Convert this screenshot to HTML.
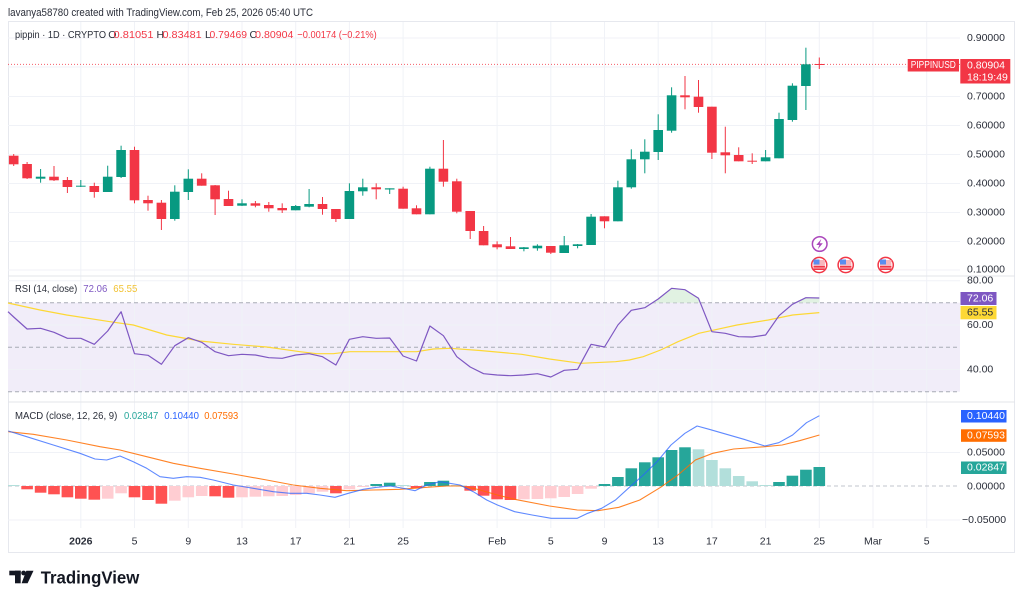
<!DOCTYPE html>
<html><head><meta charset="utf-8">
<style>
html,body{margin:0;padding:0;background:#fff;}
svg{display:block;}
text{font-family:"Liberation Sans",sans-serif;}
</style></head>
<body>
<svg width="1024" height="602" viewBox="0 0 1024 602" xmlns="http://www.w3.org/2000/svg">
<rect width="1024" height="602" fill="#fff"/>

<!-- header -->
<text x="8" y="13" font-size="11" fill="#2a2e39" dominant-baseline="central" textLength="305" lengthAdjust="spacingAndGlyphs">lavanya58780 created with TradingView.com, Feb 25, 2026 05:40 UTC</text>

<!-- frame -->
<rect x="8.5" y="21.5" width="1006" height="531" fill="none" stroke="#e6e8ee" stroke-width="1"/>

<!-- RSI band -->
<rect x="8" y="302.75" width="952" height="89" fill="#f1edf9"/>

<!-- vertical grid -->
<g stroke="#f0f2f7" stroke-width="1">
<line x1="80.8" y1="22" x2="80.8" y2="528"/>
<line x1="134.5" y1="22" x2="134.5" y2="528"/>
<line x1="188.3" y1="22" x2="188.3" y2="528"/>
<line x1="242" y1="22" x2="242" y2="528"/>
<line x1="295.7" y1="22" x2="295.7" y2="528"/>
<line x1="349.4" y1="22" x2="349.4" y2="528"/>
<line x1="403.1" y1="22" x2="403.1" y2="528"/>
<line x1="497.1" y1="22" x2="497.1" y2="528"/>
<line x1="550.8" y1="22" x2="550.8" y2="528"/>
<line x1="604.5" y1="22" x2="604.5" y2="528"/>
<line x1="658.2" y1="22" x2="658.2" y2="528"/>
<line x1="711.9" y1="22" x2="711.9" y2="528"/>
<line x1="765.6" y1="22" x2="765.6" y2="528"/>
<line x1="819.3" y1="22" x2="819.3" y2="528"/>
<line x1="873" y1="22" x2="873" y2="528"/>
<line x1="926.7" y1="22" x2="926.7" y2="528"/>
</g>
<!-- horizontal grid -->
<g stroke="#f0f2f7" stroke-width="1">
<line x1="8" y1="38" x2="960" y2="38"/>
<line x1="8" y1="67" x2="960" y2="67"/>
<line x1="8" y1="96.5" x2="960" y2="96.5"/>
<line x1="8" y1="125.5" x2="960" y2="125.5"/>
<line x1="8" y1="154.5" x2="960" y2="154.5"/>
<line x1="8" y1="183.5" x2="960" y2="183.5"/>
<line x1="8" y1="212.5" x2="960" y2="212.5"/>
<line x1="8" y1="241.5" x2="960" y2="241.5"/>
<line x1="8" y1="270" x2="960" y2="270"/>
<line x1="8" y1="280.7" x2="960" y2="280.7"/>
<line x1="8" y1="325" x2="960" y2="325"/>
<line x1="8" y1="369.5" x2="960" y2="369.5"/>
<line x1="8" y1="452.5" x2="960" y2="452.5"/>
<line x1="8" y1="520" x2="960" y2="520"/>
</g>

<!-- pane separators -->
<line x1="8" y1="276" x2="1015" y2="276" stroke="#e3e5ea" stroke-width="1"/>
<line x1="8" y1="402" x2="1015" y2="402" stroke="#e3e5ea" stroke-width="1"/>

<!-- RSI dashed levels -->
<g stroke="#a8abb5" stroke-width="1" stroke-dasharray="4,3">
<line x1="8" y1="302.75" x2="960" y2="302.75"/>
<line x1="8" y1="347.25" x2="960" y2="347.25"/>
<line x1="8" y1="391.75" x2="960" y2="391.75"/>
</g>

<!-- MACD zero dashed -->
<line x1="8" y1="486" x2="960" y2="486" stroke="#c2c4cc" stroke-width="1" stroke-dasharray="4,3"/>

<!-- price line -->
<line x1="8" y1="64.4" x2="960" y2="64.4" stroke="#F23645" stroke-width="1" stroke-dasharray="1,2" opacity="0.8"/>

<!-- candles green -->
<g fill="#089981">
<rect x="40.1" y="169" width="1" height="13.7"/><rect x="35.8" y="176.7" width="9.6" height="2"/>
<rect x="80.3" y="180" width="1" height="7"/><rect x="76" y="185.7" width="9.6" height="1"/>
<rect x="107.2" y="165.7" width="1" height="26.3"/><rect x="102.9" y="176.7" width="9.6" height="15.3"/>
<rect x="120.6" y="145.7" width="1" height="32.3"/><rect x="116.3" y="150" width="9.6" height="27"/>
<rect x="174.3" y="185.3" width="1" height="35.4"/><rect x="170" y="191.7" width="9.6" height="27.3"/>
<rect x="187.8" y="169.3" width="1" height="30.7"/><rect x="183.5" y="178.7" width="9.6" height="13.3"/>
<rect x="241.5" y="199.3" width="1" height="6.7"/><rect x="237.2" y="203.3" width="9.6" height="2.4"/>
<rect x="295.2" y="205" width="1" height="5.3"/><rect x="290.9" y="206" width="9.6" height="4.3"/>
<rect x="308.6" y="189" width="1" height="18.3"/><rect x="304.3" y="204" width="9.6" height="2.7"/>
<rect x="348.9" y="183.3" width="1" height="35.7"/><rect x="344.6" y="191" width="9.6" height="28"/>
<rect x="362.3" y="178.7" width="1" height="17"/><rect x="358" y="187.3" width="9.6" height="4"/>
<rect x="389.2" y="188.3" width="1" height="5.7"/><rect x="384.9" y="188.3" width="9.6" height="1.2"/>
<rect x="429.4" y="166.7" width="1" height="47.6"/><rect x="425.1" y="168.7" width="9.6" height="45.6"/>
<rect x="523.4" y="247" width="1" height="4.3"/><rect x="519.1" y="247.3" width="9.6" height="1.7"/>
<rect x="536.9" y="244.3" width="1" height="6.4"/><rect x="532.6" y="245.7" width="9.6" height="2.6"/>
<rect x="563.7" y="236" width="1" height="17"/><rect x="559.4" y="245.3" width="9.6" height="7.7"/>
<rect x="577.1" y="244" width="1" height="4.3"/><rect x="572.8" y="244.3" width="9.6" height="1.7"/>
<rect x="590.6" y="214" width="1" height="31"/><rect x="586.3" y="216.7" width="9.6" height="28.3"/>
<rect x="617.4" y="180.7" width="1" height="40.6"/><rect x="613.1" y="187.3" width="9.6" height="34"/>
<rect x="630.8" y="149.3" width="1" height="39.4"/><rect x="626.5" y="159.3" width="9.6" height="28"/>
<rect x="644.3" y="139.3" width="1" height="34"/><rect x="640" y="151.7" width="9.6" height="7.6"/>
<rect x="657.7" y="114.3" width="1" height="45.7"/><rect x="653.4" y="130" width="9.6" height="22"/>
<rect x="671.1" y="87.3" width="1" height="45.4"/><rect x="666.8" y="95.3" width="9.6" height="35.4"/>
<rect x="765.1" y="150" width="1" height="11.3"/><rect x="760.8" y="157.3" width="9.6" height="4"/>
<rect x="778.5" y="112.7" width="1" height="45.6"/><rect x="774.2" y="119" width="9.6" height="39.3"/>
<rect x="791.9" y="83.3" width="1" height="38.4"/><rect x="787.6" y="85.7" width="9.6" height="34.3"/>
<rect x="805.4" y="47.7" width="1" height="62.3"/><rect x="801.1" y="64.3" width="9.6" height="21.7"/>
</g>
<!-- candles red -->
<g fill="#F23645">
<rect x="13.2" y="154" width="1" height="12"/><rect x="8.9" y="155.7" width="9.6" height="8.6"/>
<rect x="26.6" y="162" width="1" height="17"/><rect x="22.3" y="164" width="9.6" height="14.3"/>
<rect x="53.5" y="166" width="1" height="15"/><rect x="49.2" y="176.7" width="9.6" height="3.6"/>
<rect x="66.9" y="177" width="1" height="16"/><rect x="62.6" y="180" width="9.6" height="7"/>
<rect x="93.8" y="182.7" width="1" height="15"/><rect x="89.5" y="186" width="9.6" height="6"/>
<rect x="134" y="146.7" width="1" height="56.6"/><rect x="129.7" y="150" width="9.6" height="50.3"/>
<rect x="147.5" y="195.7" width="1" height="15"/><rect x="143.2" y="200" width="9.6" height="3.3"/>
<rect x="160.9" y="200" width="1" height="30"/><rect x="156.6" y="202.7" width="9.6" height="16.3"/>
<rect x="201.2" y="173.3" width="1" height="12.4"/><rect x="196.9" y="178.7" width="9.6" height="7"/>
<rect x="214.6" y="185" width="1" height="30"/><rect x="210.3" y="185.3" width="9.6" height="14"/>
<rect x="228" y="190.7" width="1" height="15.3"/><rect x="223.7" y="199" width="9.6" height="7"/>
<rect x="254.9" y="201" width="1" height="6.3"/><rect x="250.6" y="203.3" width="9.6" height="2.4"/>
<rect x="268.3" y="202" width="1" height="9.7"/><rect x="264" y="205" width="9.6" height="3.3"/>
<rect x="281.7" y="203.3" width="1" height="9.7"/><rect x="277.4" y="208" width="9.6" height="2.3"/>
<rect x="322" y="197" width="1" height="17.7"/><rect x="317.7" y="204" width="9.6" height="5"/>
<rect x="335.4" y="209" width="1" height="13"/><rect x="331.1" y="209" width="9.6" height="10"/>
<rect x="375.7" y="183.3" width="1" height="16"/><rect x="371.4" y="187.3" width="9.6" height="2"/>
<rect x="402.6" y="186.7" width="1" height="22"/><rect x="398.3" y="188.7" width="9.6" height="20"/>
<rect x="416" y="205.3" width="1" height="9"/><rect x="411.7" y="208.3" width="9.6" height="6"/>
<rect x="442.9" y="140" width="1" height="46.7"/><rect x="438.6" y="168.7" width="9.6" height="13"/>
<rect x="456.3" y="178.7" width="1" height="34.6"/><rect x="452" y="181.3" width="9.6" height="30.4"/>
<rect x="469.7" y="211" width="1" height="28"/><rect x="465.4" y="211" width="9.6" height="20"/>
<rect x="483.1" y="226" width="1" height="19.3"/><rect x="478.8" y="231" width="9.6" height="14.3"/>
<rect x="496.6" y="241.3" width="1" height="8"/><rect x="492.3" y="244.3" width="9.6" height="3"/>
<rect x="510" y="237" width="1" height="12"/><rect x="505.7" y="246.3" width="9.6" height="2.7"/>
<rect x="550.3" y="246" width="1" height="8"/><rect x="546" y="246" width="9.6" height="6.7"/>
<rect x="604" y="216.3" width="1" height="12"/><rect x="599.7" y="216.3" width="9.6" height="5"/>
<rect x="684.5" y="76" width="1" height="33.3"/><rect x="680.2" y="95.3" width="9.6" height="2"/>
<rect x="698" y="80" width="1" height="32.7"/><rect x="693.7" y="96.7" width="9.6" height="10.3"/>
<rect x="711.4" y="106.7" width="1" height="52.3"/><rect x="707.1" y="106.7" width="9.6" height="46"/>
<rect x="724.8" y="126.7" width="1" height="46.6"/><rect x="720.5" y="152.3" width="9.6" height="3"/>
<rect x="738.2" y="147.3" width="1" height="14"/><rect x="733.9" y="155" width="9.6" height="6.3"/>
<rect x="751.7" y="153.3" width="1" height="10.7"/><rect x="747.4" y="160.7" width="9.6" height="1"/>
<rect x="818.8" y="57.5" width="1" height="11.5"/><rect x="814.5" y="64" width="9.6" height="1"/>
</g>

<!-- event icons -->
<circle cx="819.7" cy="244" r="7.3" fill="#fff" stroke="#AB47BC" stroke-width="1.5"/>
<path d="M821.3,239 L816.3,245 L819.3,245 L817.8,249.3 L822.8,243.2 L819.8,243.2 Z" fill="#AB47BC"/>
<g>
<circle cx="819.2" cy="265" r="7.6" fill="#fff" stroke="#F23645" stroke-width="1.5"/>
<rect x="813.5" y="260" width="11.4" height="10" fill="#f7b6bc"/>
<rect x="813.5" y="266" width="11.4" height="1.5" fill="#F23645"/>
<rect x="813.5" y="268.5" width="11.4" height="1.5" fill="#F23645"/>
<rect x="813.5" y="259.5" width="6" height="5" fill="#5b8def"/>
</g>
<g>
<circle cx="845.7" cy="265" r="7.6" fill="#fff" stroke="#F23645" stroke-width="1.5"/>
<rect x="840" y="260" width="11.4" height="10" fill="#f7b6bc"/>
<rect x="840" y="266" width="11.4" height="1.5" fill="#F23645"/>
<rect x="840" y="268.5" width="11.4" height="1.5" fill="#F23645"/>
<rect x="840" y="259.5" width="6" height="5" fill="#5b8def"/>
</g>
<g>
<circle cx="885.7" cy="265" r="7.6" fill="#fff" stroke="#F23645" stroke-width="1.5"/>
<rect x="880" y="260" width="11.4" height="10" fill="#f7b6bc"/>
<rect x="880" y="266" width="11.4" height="1.5" fill="#F23645"/>
<rect x="880" y="268.5" width="11.4" height="1.5" fill="#F23645"/>
<rect x="880" y="259.5" width="6" height="5" fill="#5b8def"/>
</g>

<!-- RSI overbought fill -->
<polygon points="652.4,302.75 658.2,299 671.6,288.3 685,289.7 698.5,298.3 700.3,302.75" fill="#d9efdb" opacity="0.8"/>
<polygon points="795.5,302.75 805.9,297.7 819.3,298 819.3,302.75" fill="#d9efdb" opacity="0.8"/>

<!-- RSI MA -->
<polyline fill="none" stroke="#FDD835" stroke-width="1.2" points="8,303 40,310 66.7,315 110,321.7 133.3,325 166.7,335 200,341 233.3,344.3 266.7,347 300,351.7 316.7,353.7 333.3,353.7 350,351.7 416.7,351.7 433.3,349 450,348.3 480,350.5 521.7,354.3 549.5,359 580.7,363.3 615.5,361.7 629.4,360 643.2,356.7 660.6,350 678,341.7 698.8,333.3 712.7,330.3 737,325 768.3,320 792.6,315 819.3,312.6"/>
<!-- RSI -->
<polyline fill="none" stroke="#7E57C2" stroke-width="1.2" stroke-linejoin="round" points="8,311.7 13.7,317 27.1,329 40.6,328.3 54,332.3 67.4,338.3 80.8,338.3 94.3,344.3 107.7,331 121.1,311.7 134.5,353.7 148,355.3 161.4,364.3 174.8,345.7 188.3,337.7 201.7,342.3 215.1,351.7 228.5,355.7 242,354.3 255.4,355 268.8,357.7 282.2,358.3 295.7,355 309.1,353.7 322.5,356.7 335.9,365 349.4,339.3 362.8,336.7 376.2,338.3 389.7,338 403.1,356 416.5,361 429.9,326 443.4,335.7 456.8,356.7 470.2,367 483.6,373.7 497.1,375 510.5,375.7 523.9,375 537.4,373.7 550.8,377 564.2,370.3 577.6,369.3 591.1,344.3 604.5,347 617.9,325 631.3,310.3 644.8,307.7 658.2,299 671.6,288.3 685,289.7 698.5,298.3 711.9,331.7 725.3,333.3 738.7,336.7 752.2,337 765.6,335 779,315.7 792.4,304.3 805.9,297.7 819.3,298"/>

<!-- MACD histogram -->
<g fill="#B2DFDB">
<rect x="8" y="485" width="11.5" height="1"/>
<rect x="397.3" y="485" width="11.6" height="1"/>
<rect x="451" y="485" width="11.6" height="1"/>
<rect x="692.7" y="449.3" width="11.6" height="36.7"/>
<rect x="706.1" y="460" width="11.6" height="26"/>
<rect x="719.5" y="468.3" width="11.6" height="17.7"/>
<rect x="732.9" y="476" width="11.6" height="10"/>
<rect x="746.4" y="481.3" width="11.6" height="4.7"/>
<rect x="759.8" y="485" width="11.6" height="1"/>
</g>
<g fill="#26A69A">
<rect x="370.4" y="484" width="11.6" height="2"/>
<rect x="383.9" y="482.7" width="11.6" height="3.3"/>
<rect x="424.1" y="482" width="11.6" height="4"/>
<rect x="437.6" y="480.7" width="11.6" height="5.3"/>
<rect x="598.7" y="484" width="11.6" height="2"/>
<rect x="612.1" y="477" width="11.6" height="9"/>
<rect x="625.5" y="468.3" width="11.6" height="17.7"/>
<rect x="639" y="462.3" width="11.6" height="23.7"/>
<rect x="652.4" y="457.3" width="11.6" height="28.7"/>
<rect x="665.8" y="450" width="11.6" height="36"/>
<rect x="679.2" y="447.3" width="11.6" height="38.7"/>
<rect x="773.2" y="482" width="11.6" height="4"/>
<rect x="786.6" y="475.7" width="11.6" height="10.3"/>
<rect x="800.1" y="469.7" width="11.6" height="16.3"/>
<rect x="813.5" y="467" width="11.6" height="19"/>
</g>
<g fill="#FF5252">
<rect x="21.3" y="486" width="11.6" height="3.3"/>
<rect x="34.8" y="486" width="11.6" height="6.7"/>
<rect x="48.2" y="486" width="11.6" height="8.3"/>
<rect x="61.6" y="486" width="11.6" height="11.3"/>
<rect x="75" y="486" width="11.6" height="12.7"/>
<rect x="88.5" y="486" width="11.6" height="13.7"/>
<rect x="128.7" y="486" width="11.6" height="11.3"/>
<rect x="142.2" y="486" width="11.6" height="14"/>
<rect x="155.6" y="486" width="11.6" height="17.7"/>
<rect x="209.3" y="486" width="11.6" height="10.3"/>
<rect x="222.7" y="486" width="11.6" height="11.7"/>
<rect x="330.1" y="486" width="11.6" height="7.3"/>
<rect x="410.7" y="486" width="11.6" height="2.3"/>
<rect x="464.4" y="486" width="11.6" height="4.7"/>
<rect x="477.8" y="486" width="11.6" height="9.7"/>
<rect x="491.3" y="486" width="11.6" height="13.3"/>
<rect x="504.7" y="486" width="11.6" height="14"/>
</g>
<g fill="#FFCDD2">
<rect x="101.9" y="486" width="11.6" height="12.7"/>
<rect x="115.3" y="486" width="11.6" height="7.3"/>
<rect x="169" y="486" width="11.6" height="14.7"/>
<rect x="182.5" y="486" width="11.6" height="11.3"/>
<rect x="195.9" y="486" width="11.6" height="10"/>
<rect x="236.2" y="486" width="11.6" height="11.3"/>
<rect x="249.6" y="486" width="11.6" height="10.7"/>
<rect x="263" y="486" width="11.6" height="10.3"/>
<rect x="276.4" y="486" width="11.6" height="10"/>
<rect x="289.9" y="486" width="11.6" height="9"/>
<rect x="303.3" y="486" width="11.6" height="7.3"/>
<rect x="316.7" y="486" width="11.6" height="5.7"/>
<rect x="343.6" y="486" width="11.6" height="3.3"/>
<rect x="357" y="486" width="11.6" height="1"/>
<rect x="518.1" y="486" width="11.6" height="13.3"/>
<rect x="531.6" y="486" width="11.6" height="13"/>
<rect x="545" y="486" width="11.6" height="12.3"/>
<rect x="558.4" y="486" width="11.6" height="11"/>
<rect x="571.8" y="486" width="11.6" height="8"/>
<rect x="585.3" y="486" width="11.6" height="2.7"/>
</g>

<!-- MACD signal -->
<polyline fill="none" stroke="#FF6D00" stroke-width="1.1" stroke-opacity="0.85" points="8.3,431.7 33.3,434.3 66.7,440 100,446.7 120,450 146.7,456.7 173.3,463.3 200,468.3 233.3,474 266.7,480 293.3,485 320,488.3 346.7,490.7 373.3,490 400,489.3 426.7,487.3 446.7,486 460,486 473.3,488.3 480,490 497.4,495 514.7,499.3 549.5,506 577.3,510 598.1,510.7 618.9,507.3 639.8,500 660.6,487.3 678,475 695.4,460 712.7,453.3 733.6,449 764.8,446.7 782.2,445 799.6,440.7 819.4,435"/>
<!-- MACD line -->
<polyline fill="none" stroke="#2962FF" stroke-width="1.1" stroke-opacity="0.75" stroke-linejoin="round" points="8.3,431 26.7,436.7 53.3,445 80,453.3 95,459 106.7,460 120,456 133.3,461.7 146.7,468.3 160,476.7 173.3,478.3 186.7,476.7 200,477.3 213.3,480 233.3,485 253.3,488.3 273.3,491.7 290,493.3 306.7,493.3 320,495 335,497.3 348.3,493.3 363.3,489.3 376.7,487.3 390,486 403.3,488.3 415,490.7 426.7,485 440,481.7 460,485 473.3,491.7 486.7,500 497.4,505 514.7,511.7 532.1,515 551.2,518.3 577.3,518.3 587.7,513.3 601.6,508.3 615.5,500 629.4,487.3 643.3,475 657.1,461.7 671,445 684.9,433.3 697.1,426 709.2,429.3 723.1,433.3 744,439.3 764.8,446 778.7,442.7 792.6,435 806.5,422.7 819.4,415.7"/>

<!-- legends -->
<g font-size="10.5" dominant-baseline="central">
<text x="15" y="35" fill="#2a2e39" textLength="91" lengthAdjust="spacingAndGlyphs">pippin · 1D · CRYPTO</text>
<text x="108.3" y="35" fill="#2a2e39">O</text>
<text x="113.5" y="35" fill="#F23645" textLength="40" lengthAdjust="spacingAndGlyphs">0.81051</text>
<text x="156.5" y="35" fill="#2a2e39">H</text>
<text x="162.5" y="35" fill="#F23645" textLength="39.2" lengthAdjust="spacingAndGlyphs">0.83481</text>
<text x="205" y="35" fill="#2a2e39">L</text>
<text x="209.5" y="35" fill="#F23645" textLength="37.5" lengthAdjust="spacingAndGlyphs">0.79469</text>
<text x="249.5" y="35" fill="#2a2e39">C</text>
<text x="255.2" y="35" fill="#F23645" textLength="38.2" lengthAdjust="spacingAndGlyphs">0.80904</text>
<text x="297.3" y="35" fill="#F23645" textLength="79.4" lengthAdjust="spacingAndGlyphs">−0.00174 (−0.21%)</text>

<text x="15" y="289" fill="#2a2e39" textLength="62.3" lengthAdjust="spacingAndGlyphs">RSI (14, close)</text>
<text x="83.3" y="289" fill="#7E57C2" textLength="24" lengthAdjust="spacingAndGlyphs">72.06</text>
<text x="113.3" y="289" fill="#F2C230" textLength="24" lengthAdjust="spacingAndGlyphs">65.55</text>

<text x="15" y="416" fill="#2a2e39" textLength="102.3" lengthAdjust="spacingAndGlyphs">MACD (close, 12, 26, 9)</text>
<text x="124" y="416" fill="#26A69A" textLength="34.3" lengthAdjust="spacingAndGlyphs">0.02847</text>
<text x="164.3" y="416" fill="#2962FF" textLength="34.7" lengthAdjust="spacingAndGlyphs">0.10440</text>
<text x="204.3" y="416" fill="#FF6D00" textLength="34" lengthAdjust="spacingAndGlyphs">0.07593</text>
</g>

<!-- price axis -->
<g font-size="10.5" fill="#2a2e39" dominant-baseline="central">
<text x="967" y="38">0.90000</text>
<text x="967" y="96.5">0.70000</text>
<text x="967" y="125.5">0.60000</text>
<text x="967" y="154.5">0.50000</text>
<text x="967" y="183.5">0.40000</text>
<text x="967" y="212.5">0.30000</text>
<text x="967" y="241.5">0.20000</text>
<text x="967" y="269.5">0.10000</text>
<text x="967" y="280.7">80.00</text>
<text x="967" y="325">60.00</text>
<text x="967" y="369.7">40.00</text>
<text x="967" y="452.5">0.05000</text>
<text x="967" y="486.5">0.00000</text>
<text x="962" y="520">−0.05000</text>
</g>

<!-- price tags -->
<rect x="907.7" y="59" width="51.3" height="12.5" fill="#F23645"/>
<text x="933.3" y="65.3" font-size="10" fill="#fff" text-anchor="middle" dominant-baseline="central" textLength="45" lengthAdjust="spacingAndGlyphs">PIPPINUSD</text>
<rect x="960.3" y="59" width="50" height="24.5" fill="#F23645"/>
<text x="967" y="65.3" font-size="10.5" fill="#fff" dominant-baseline="central">0.80904</text>
<text x="967" y="77.3" font-size="10.5" fill="#fff" dominant-baseline="central">18:19:49</text>

<rect x="960.5" y="292" width="36" height="13" fill="#7E57C2"/>
<text x="967" y="298.5" font-size="10.5" fill="#fff" dominant-baseline="central">72.06</text>
<rect x="960.5" y="306" width="36" height="13.3" fill="#FDD835"/>
<text x="967" y="312.7" font-size="10.5" fill="#2a2e39" dominant-baseline="central">65.55</text>

<rect x="961" y="410" width="45.5" height="12.5" fill="#2962FF"/>
<text x="967" y="416.2" font-size="10.5" fill="#fff" dominant-baseline="central">0.10440</text>
<rect x="961" y="429.3" width="45.5" height="12.5" fill="#FF6D00"/>
<text x="967" y="435.5" font-size="10.5" fill="#fff" dominant-baseline="central">0.07593</text>
<rect x="961" y="461.5" width="45.5" height="12.5" fill="#26A69A"/>
<text x="967" y="467.7" font-size="10.5" fill="#fff" dominant-baseline="central">0.02847</text>

<!-- time axis -->
<g font-size="10.5" fill="#2a2e39" text-anchor="middle" dominant-baseline="central">
<text x="80.8" y="541.5" font-weight="bold">2026</text>
<text x="134.5" y="541.5">5</text>
<text x="188.3" y="541.5">9</text>
<text x="242" y="541.5">13</text>
<text x="295.7" y="541.5">17</text>
<text x="349.4" y="541.5">21</text>
<text x="403.1" y="541.5">25</text>
<text x="497.1" y="541.5">Feb</text>
<text x="550.8" y="541.5">5</text>
<text x="604.5" y="541.5">9</text>
<text x="658.2" y="541.5">13</text>
<text x="711.9" y="541.5">17</text>
<text x="765.6" y="541.5">21</text>
<text x="819.3" y="541.5">25</text>
<text x="873" y="541.5">Mar</text>
<text x="926.7" y="541.5">5</text>
</g>

<!-- TradingView logo -->
<g fill="#131722">
<rect x="9.3" y="570.7" width="11.4" height="4.6"/>
<rect x="15" y="570.7" width="5.7" height="12.6"/>
<circle cx="23.6" cy="573" r="2.4"/>
<polygon points="26.3,570.7 33.5,570.7 27.6,583.3 21.6,583.3"/>
</g>
<text x="40.7" y="583.3" font-size="17.5" font-weight="bold" fill="#131722" textLength="98.6" lengthAdjust="spacingAndGlyphs">TradingView</text>
</svg>
</body></html>
